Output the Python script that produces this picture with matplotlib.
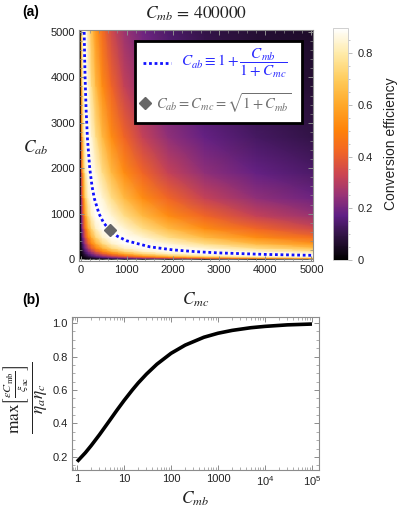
"""Transduction efficiency map (a) and optimum efficiency vs C_mb (b)."""
import matplotlib
matplotlib.use("Agg")
import matplotlib.pyplot as plt
import matplotlib.ticker as mticker
from matplotlib.colors import LinearSegmentedColormap
from matplotlib.patches import Rectangle
import numpy as np

plt.rcParams["font.family"] = ["Liberation Sans", "DejaVu Sans"]
plt.rcParams["mathtext.fontset"] = "stix"

# ---- panel (a): efficiency on a (symmetric) node grid ----
grid_c = [0, 20, 29, 41, 58, 83, 118, 167, 237, 335, 474, 671, 949, 1343, 1900,
          2687, 3801, 5375]
efficiency = [
    [0] * 18,
    [0, .00, .01, .01, .01, .01, .02, .03, .04, .06, .08, .11, .16, .21, .28, .37, .48, .59],
    [0, .01, .01, .01, .01, .02, .03, .04, .06, .08, .11, .16, .21, .29, .38, .48, .60, .71],
    [0, .01, .01, .01, .02, .03, .04, .06, .08, .12, .16, .22, .29, .38, .49, .60, .72, .81],
    [0, .01, .01, .02, .03, .04, .06, .08, .12, .16, .22, .29, .38, .49, .61, .72, .82, .87],
    [0, .01, .02, .03, .04, .06, .08, .12, .16, .22, .29, .38, .49, .61, .72, .82, .88, .89],
    [0, .02, .03, .04, .06, .08, .12, .16, .22, .29, .39, .49, .61, .73, .82, .88, .89, .85],
    [0, .03, .04, .06, .08, .12, .16, .22, .29, .39, .50, .61, .73, .82, .88, .89, .85, .76],
    [0, .04, .06, .08, .12, .16, .22, .29, .39, .50, .61, .73, .83, .88, .89, .85, .76, .65],
    [0, .06, .08, .12, .16, .22, .29, .39, .50, .61, .73, .83, .89, .89, .85, .76, .65, .53],
    [0, .08, .11, .16, .22, .29, .39, .50, .61, .73, .83, .89, .89, .85, .76, .65, .53, .42],
    [0, .11, .16, .22, .29, .38, .49, .61, .73, .83, .89, .89, .85, .76, .65, .53, .42, .32],
    [0, .16, .21, .29, .38, .49, .61, .73, .83, .89, .89, .85, .76, .65, .53, .42, .32, .24],
    [0, .21, .29, .38, .49, .61, .73, .82, .88, .89, .85, .76, .65, .53, .42, .32, .24, .18],
    [0, .28, .38, .49, .61, .72, .82, .88, .89, .85, .76, .65, .53, .42, .32, .24, .18, .13],
    [0, .37, .48, .60, .72, .82, .88, .89, .85, .76, .65, .53, .42, .32, .24, .18, .13, .09],
    [0, .48, .60, .72, .82, .88, .89, .85, .76, .65, .53, .42, .32, .24, .18, .13, .09, .07],
    [0, .59, .71, .81, .87, .89, .85, .76, .65, .53, .42, .32, .24, .18, .13, .09, .07, .05],
]
EFF_MAX = 0.897  # top of the colour bar

# optimum curve C_ab vs C_mc
curve_cmc = [79, 90, 100, 120, 150, 200, 250, 300, 400, 500, 632, 800, 1000,
             1500, 2000, 2500, 3000, 4000, 5000]
curve_cab = [5000, 4397, 3961, 3307, 2650, 1991, 1595, 1330, 998, 799, 633, 500, 401,
             268, 201, 161, 134, 101, 81]
sym_point = (632, 632)

# ---- panel (b) data ----
cmb_values = [1, 1.5, 2, 3, 5, 7, 10, 15, 20, 30, 50, 100, 200, 500, 1000, 2000,
              5000, 1e4, 3e4, 1e5]
max_ratio = [0.172, 0.225, 0.268, 0.333, 0.420, 0.478, 0.537, 0.600, 0.642, 0.695,
             0.754, 0.819, 0.868, 0.915, 0.939, 0.956, 0.972, 0.980, 0.989, 0.994]

FRAME = "#8c8c8c"
LABEL = "#222222"
CURVE_BLUE = "#1010ff"
MARK_GRAY = "#666666"

sunset = LinearSegmentedColormap.from_list("sunset", [
    (0.00, (0.00, 0.00, 0.00)),
    (0.11, (0.20, 0.08, 0.28)),
    (0.19, (0.37, 0.12, 0.52)),
    (0.28, (0.60, 0.20, 0.46)),
    (0.37, (0.80, 0.27, 0.32)),
    (0.47, (0.95, 0.40, 0.14)),
    (0.56, (1.00, 0.51, 0.03)),
    (0.67, (1.00, 0.66, 0.16)),
    (0.78, (1.00, 0.80, 0.36)),
    (0.89, (1.00, 0.92, 0.66)),
    (1.00, (1.00, 1.00, 1.00)),
])


def style_frame(ax):
    for spine in ax.spines.values():
        spine.set_color(FRAME)
        spine.set_linewidth(0.8)
    ax.tick_params(which="both", direction="in", top=True, right=True,
                   color=FRAME, labelcolor=LABEL, labelsize=8, pad=3)
    ax.tick_params(which="major", length=3.5, width=0.7)
    ax.tick_params(which="minor", length=2, width=0.5)


W, H = 399, 511
fig = plt.figure(figsize=(W / 100, H / 100), dpi=100)


def px_axes(left, top, right, bottom):
    return fig.add_axes([left / W, 1 - bottom / H, (right - left) / W, (bottom - top) / H])


# ---------------- panel (a) ----------------
ax = px_axes(79, 30, 313, 261)
mesh = ax.pcolormesh(grid_c, grid_c, np.array(efficiency), shading="gouraud",
                     cmap=sunset, vmin=0, vmax=EFF_MAX, rasterized=True)
ax.plot(curve_cmc, curve_cab, color=CURVE_BLUE, lw=2, ls=(0, (1, 1)), zorder=3)
ax.plot(*sym_point, marker="D", color=MARK_GRAY, ms=6, zorder=4)

ax.set_xlim(-33, 5033)
ax.set_ylim(-44, 5044)
ax.xaxis.set_major_locator(mticker.MultipleLocator(1000))
ax.xaxis.set_minor_locator(mticker.MultipleLocator(200))
ax.yaxis.set_major_locator(mticker.MultipleLocator(1000))
ax.yaxis.set_minor_locator(mticker.MultipleLocator(200))
style_frame(ax)

ax.set_xlabel(r"$C_{mc}$", fontsize=12.5, color=LABEL)
ax.xaxis.set_label_coords(0.5, -0.13)
ax.set_ylabel(r"$C_{ab}$", fontsize=12.5, color=LABEL, rotation=0)
ax.yaxis.set_label_coords(-0.185, 0.45)
ax.set_title(r"$C_{mb}\,=\,400000$", fontsize=12.5, color=LABEL, pad=8)

# legend box drawn by hand
ax.add_patch(Rectangle((1180, 3000), 3615, 1800, facecolor="white",
                       edgecolor="black", lw=2, zorder=5))
ax.plot([1350, 1950], [4318, 4318], color=CURVE_BLUE, lw=2, ls=(0, (1, 1)), zorder=6)
ax.text(2180, 4318, r"$C_{ab} \equiv 1+\dfrac{C_{mb}}{1+C_{mc}}$", color="#2a2aff",
        fontsize=11, va="center", ha="left", zorder=6)
ax.plot(1400, 3440, marker="D", color=MARK_GRAY, ms=6, zorder=6)
ax.text(1640, 3440, r"$C_{ab}=C_{mc}=\sqrt{1+C_{mb}}$", color="#707070",
        fontsize=10.5, va="center", ha="left", zorder=6)

# colorbar
cax = px_axes(333, 28, 348, 260)
cb = fig.colorbar(mesh, cax=cax)
cb.outline.set_edgecolor("#c8c8c8")
cb.outline.set_linewidth(0.6)
cb.set_ticks([0, 0.2, 0.4, 0.6, 0.8])
cb.ax.set_yticklabels(["0", "0.2", "0.4", "0.6", "0.8"])
cb.ax.yaxis.set_minor_locator(mticker.MultipleLocator(0.05))
cb.ax.tick_params(which="both", color="#b0b0b0", labelcolor=LABEL, labelsize=8)
cb.ax.tick_params(which="major", length=3, width=0.6, pad=4)
cb.ax.tick_params(which="minor", length=1.5, width=0.5)
cb.set_label("Conversion efficiency", fontsize=10, color=LABEL, labelpad=8)

# ---------------- panel (b) ----------------
bx = px_axes(72, 317, 319, 470)
bx.plot(cmb_values, max_ratio, color="black", lw=2.6, solid_capstyle="butt")
bx.set_xscale("log")
bx.set_xlim(0.78, 1.41e5)
bx.set_ylim(0.122, 1.036)
bx.xaxis.set_major_locator(mticker.FixedLocator([1, 10, 100, 1000, 1e4, 1e5]))
bx.xaxis.set_major_formatter(mticker.FixedFormatter(
    ["1", "10", "100", "1000", r"$\mathregular{10^4}$", r"$\mathregular{10^5}$"]))
bx.xaxis.set_minor_locator(mticker.LogLocator(base=10, subs=np.arange(2, 10), numticks=20))
bx.xaxis.set_minor_formatter(mticker.NullFormatter())
bx.yaxis.set_major_locator(mticker.FixedLocator([0.2, 0.4, 0.6, 0.8, 1.0]))
bx.yaxis.set_major_formatter(mticker.FormatStrFormatter("%.1f"))
bx.yaxis.set_minor_locator(mticker.MultipleLocator(0.05))
style_frame(bx)

bx.set_xlabel(r"$C_{mb}$", fontsize=12.5, color=LABEL)
bx.xaxis.set_label_coords(0.5, -0.13)
bx.set_ylabel(r"$\dfrac{\max\left[\frac{\varepsilon C_{\rm mb}}{\xi_{\rm ac}}\right]}{\eta_a\eta_c}$",
              fontsize=12.5, color=LABEL)
bx.yaxis.set_label_coords(-0.09, 0.47)

fig.text(22 / W, 1 - 12 / H, "(a)", fontsize=10, fontweight="bold", va="center", ha="left")
fig.text(22 / W, 1 - 300 / H, "(b)", fontsize=10, fontweight="bold", va="center", ha="left")

fig.savefig("out.png", dpi=100)
